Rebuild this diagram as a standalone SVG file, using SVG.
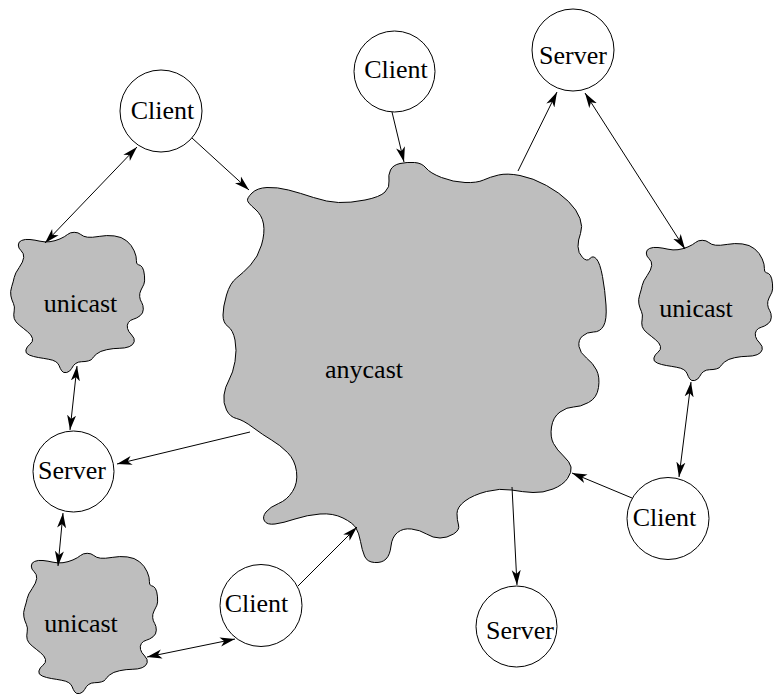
<svg xmlns="http://www.w3.org/2000/svg" xmlns:xlink="http://www.w3.org/1999/xlink" width="775" height="698" viewBox="0 0 775 698">
<style>
.blob{fill:#bebebe;stroke:#000;stroke-width:1}
.node{fill:#fff;stroke:#000;stroke-width:1}
.lbl{font-family:'Liberation Serif','Times New Roman','DejaVu Serif',serif;font-size:26px;fill:#000;text-anchor:middle}
.edge{stroke:#000;stroke-width:1;fill:none}
.one{marker-end:url(#ah)}
.two{marker-start:url(#ah);marker-end:url(#ah)}
</style>
<defs>
<marker id="ah" markerWidth="16" markerHeight="10" refX="15" refY="5" orient="auto-start-reverse" markerUnits="userSpaceOnUse">
<path d="M0,0.5 L15,5 L0,9.5 L4,5 Z" fill="#000"/>
</marker>
<path id="ushape" d="M18.3,245 Q18.3,241.7 21.7,240.4 Q25,239 30,239.5 Q35,240 40,241.2 Q45,242.3 50,241.7 Q55,241 60,238.9 Q65,236.7 67.5,234.5 Q70,232.3 74.2,232.3 Q78.3,232.3 80.8,234.5 Q83.3,236.7 87.5,237.2 Q91.7,237.7 99.2,236.4 Q106.7,235 114.2,235.9 Q121.7,236.7 126.7,240.9 Q131.7,245 134.2,250.9 Q136.7,256.7 136.4,260.5 Q136,264.3 138.4,264.7 Q140.7,265 142.4,267.5 Q144,270 144.5,275.9 Q145,281.7 143.9,284.2 Q142.7,286.7 141,290 Q139.3,293.3 139.7,296.7 Q140,300 141.7,302.5 Q143.3,305 143.3,309.2 Q143.3,313.3 140,315.8 Q136.7,318.3 133.4,319.2 Q130,320 128.4,322.5 Q126.7,325 127.5,328.4 Q128.3,331.7 131.7,335 Q135,338.3 134.2,341.7 Q133.3,345 129.2,346.7 Q125,348.3 119.2,348.3 Q113.3,348.3 106.7,349.7 Q100,351 96.7,353.9 Q93.3,356.7 92.5,358.4 Q91.7,360 88.4,360.9 Q85,361.7 81.7,361.7 Q78.3,361.7 75.8,363.4 Q73.3,365 71.7,368.4 Q70,371.7 66.7,372.5 Q63.3,373.3 61.7,370.8 Q60,368.3 59.2,365.8 Q58.3,363.3 55.8,361.7 Q53.3,360 48.3,359.2 Q43.3,358.3 38.3,357.5 Q33.3,356.7 29.2,355 Q25,353.3 25.9,350 Q26.7,346.7 30,344.2 Q33.3,341.7 32.5,338.4 Q31.7,335 27.5,331.7 Q23.3,328.3 19.2,325 Q15,321.7 14.2,318.4 Q13.3,315 14.2,310.9 Q15,306.7 13.4,303.4 Q11.7,300 10.9,295.9 Q10,291.7 11.7,286.7 Q13.3,281.7 14.2,277.5 Q15,273.3 19.2,267.5 Q23.3,261.7 23.7,257.5 Q24,253.3 21.2,250.8 Q18.3,248.3 18.3,245 Z"/>
</defs>
<rect width="775" height="698" fill="#fff"/>

<g id="anycast">
<path class="blob" d="M247.5,200.5 Q247,198 252,193 Q257,188 267,187.5 Q277,187 288.5,190 Q300,193 313.5,197.5 Q327,202 338.5,202.5 Q350,203 365,200 Q380,197 385,192 Q390,187 389,181 Q388,175 390.5,170 Q393,165 400,163.5 Q407,162 414.5,162.5 Q422,163 426,168 Q430,173 441.5,177.5 Q453,182 465,182.5 Q477,183 483.5,180 Q490,177 498.5,175 Q507,173 520,175.5 Q533,178 546.5,185.5 Q560,193 568.5,201.5 Q577,210 580,218.5 Q583,227 580.5,233.5 Q578,240 578,246.5 Q578,253 582.5,257.5 Q587,262 590,258.5 Q593,255 596.5,259 Q600,263 602.5,276.5 Q605,290 606,305 Q607,320 603.5,326 Q600,332 593.5,332 Q587,332 582.5,336 Q578,340 579,346.5 Q580,353 586.5,358 Q593,363 596.5,370 Q600,377 598.5,387.5 Q597,398 588.5,402.5 Q580,407 573.5,407 Q567,407 560,412 Q553,417 551.5,427 Q550,437 553.5,443.5 Q557,450 563.5,456 Q570,462 571,467 Q572,472 567.5,478.5 Q563,485 553,489 Q543,493 533,492.5 Q523,492 511.5,490 Q500,488 486.5,491.5 Q473,495 465,501 Q457,507 457,513.5 Q457,520 458.5,525 Q460,530 453.5,534 Q447,538 440,538 Q433,538 426.5,534 Q420,530 411.5,529 Q403,528 397.5,532.5 Q392,537 391,546 Q390,555 386,559 Q382,563 374.5,562.5 Q367,562 364.5,556 Q362,550 360.5,541.5 Q359,533 356,528 Q353,523 343,518 Q333,513 320,514 Q307,515 295,519 Q283,523 275,524 Q267,525 264.5,521 Q262,517 266,512 Q270,507 278.5,503.5 Q287,500 292.5,491.5 Q298,483 296.5,471.5 Q295,460 287.5,452.5 Q280,445 271.5,440 Q263,435 253,427.5 Q243,420 236.5,418.5 Q230,417 226.5,410 Q223,403 224,395 Q225,387 229,380 Q233,373 235,361.5 Q237,350 235,340 Q233,330 228,326.5 Q223,323 223,315 Q223,307 226.5,295 Q230,283 236.5,278 Q243,273 250.5,265 Q258,257 261.5,245 Q265,233 263.5,224 Q262,215 255,209 Q248,203 247.5,200.5 Z"/>
<text class="lbl" x="364" y="378">anycast</text>
</g>

<g id="unicast-left">
<use xlink:href="#ushape" class="blob"/>
<text class="lbl" x="80.5" y="312">unicast</text>
</g>
<g id="unicast-right">
<use xlink:href="#ushape" class="blob" transform="translate(628,8)"/>
<text class="lbl" x="696" y="317">unicast</text>
</g>
<g id="unicast-bottom">
<use xlink:href="#ushape" class="blob" transform="translate(13,321)"/>
<text class="lbl" x="81" y="632">unicast</text>
</g>

<g id="client-topleft">
<circle class="node" cx="161" cy="111" r="41"/>
<text class="lbl" x="162.5" y="119">Client</text>
</g>
<g id="client-top">
<circle class="node" cx="394.5" cy="71.5" r="40.5"/>
<text class="lbl" x="396" y="78">Client</text>
</g>
<g id="server-topright">
<circle class="node" cx="573" cy="50" r="41"/>
<text class="lbl" x="573" y="64">Server</text>
</g>
<g id="server-left">
<circle class="node" cx="73.5" cy="471.5" r="40.5"/>
<text class="lbl" x="72" y="479">Server</text>
</g>
<g id="client-bottom">
<circle class="node" cx="261" cy="605.5" r="41"/>
<text class="lbl" x="256.5" y="611.5">Client</text>
</g>
<g id="client-bottomright">
<circle class="node" cx="668" cy="518.5" r="41"/>
<text class="lbl" x="664.5" y="525.5">Client</text>
</g>
<g id="server-bottom">
<circle class="node" cx="516.5" cy="626.5" r="40.5"/>
<text class="lbl" x="520" y="639">Server</text>
</g>

<g id="connectors">
<line class="edge one" x1="192" y1="138" x2="249" y2="190"/>
<line class="edge one" x1="392" y1="112" x2="404" y2="162"/>
<line class="edge one" x1="518" y1="171" x2="557" y2="92"/>
<line class="edge two" x1="585" y1="93" x2="685" y2="249"/>
<line class="edge one" x1="250" y1="432" x2="117" y2="464"/>
<line class="edge one" x1="298" y1="586" x2="357" y2="527"/>
<line class="edge one" x1="512" y1="487" x2="517" y2="585"/>
<line class="edge one" x1="632" y1="498" x2="572" y2="473"/>
<line class="edge two" x1="679" y1="477" x2="691" y2="382"/>
<line class="edge two" x1="137" y1="147" x2="45" y2="243"/>
<line class="edge two" x1="77" y1="366" x2="70" y2="430"/>
<line class="edge two" x1="63" y1="513" x2="58" y2="566"/>
<line class="edge two" x1="147" y1="657" x2="235" y2="639"/>
</g>
</svg>
